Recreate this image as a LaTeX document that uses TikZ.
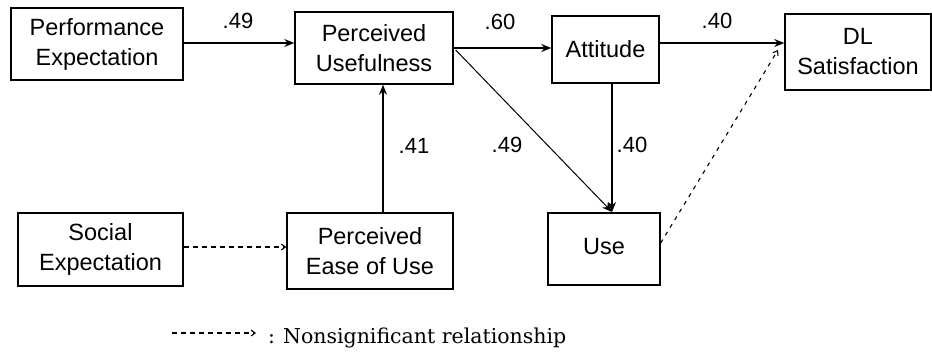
\documentclass[tikz,border=0pt]{standalone}
\usepackage{fontspec}
\setmainfont{Liberation Sans}
\newfontfamily\legfont{DejaVu Serif}
\usetikzlibrary{arrows.meta}
\begin{document}
\begin{tikzpicture}[x=1pt,y=-1pt,
  box/.style={draw, line width=1.4pt, inner sep=0pt, align=center,
    font=\fontsize{23.5}{30}\selectfont},
  lbl/.style={font=\fontsize{22}{26}\selectfont, inner sep=0pt},
  sarrow/.style={line width=1.3pt, -{Stealth[length=10pt,width=8pt]}},
  thinarrow/.style={line width=1pt, -{Stealth[length=10pt,width=8pt]}},
  nsarrow/.style={line width=1.1pt, dash pattern=on 5pt off 4pt, -{Straight Barb[length=4pt,width=6pt]}},
  dotarrow/.style={line width=1.1pt, dash pattern=on 4pt off 5pt, -{Straight Barb[length=4pt,width=6pt]}}]
\useasboundingbox (0,0) rectangle (932,353);

\node[box, minimum width=172, minimum height=72] (PE) at (97,44) {Performance\\Expectation};
\node[box, minimum width=158, minimum height=72] (PU) at (374,48) {Perceived\\Usefulness};
\node[box, minimum width=107, minimum height=67] (AT) at (605.5,49.5) {Attitude};
\node[box, minimum width=146, minimum height=76] (DL) at (858,52) {DL\\Satisfaction};
\node[box, minimum width=165, minimum height=73] (SE) at (100.5,249.5) {Social\\Expectation};
\node[box, minimum width=166, minimum height=76] (EU) at (370,251) {Perceived\\Ease of Use};
\node[box, minimum width=112, minimum height=72] (US) at (604,249) {\raisebox{5pt}{Use}};

\coordinate (useIn) at (612,212);
\coordinate (dlIn) at (778,50);

% solid paths
\draw[sarrow] (PE.east |- 0,43) -- (PU.west |- 0,43);
\draw[sarrow] (PU.east) -- (PU.east -| AT.west);
\draw[sarrow] (AT.east |- 0,43) -- (DL.west |- 0,43);
\draw[sarrow] (AT.south -| useIn) -- (useIn);
\draw[thinarrow] (PU.east) ++(2,2) -- (useIn);
\draw[sarrow] (EU.north -| 383,0) -- (PU.south -| 383,0);

% nonsignificant paths
\draw[nsarrow] (SE.east |- 0,247) -- (EU.west |- 0,247);
\draw[dotarrow] (US.east |- 0,243) -- (dlIn);

% labels
\node[lbl] (l1) at (238,21) {.49};
\node[lbl] (l2) at (500,22) {.60};
\node[lbl] (l3) at (717,21) {.40};
\node[lbl] (l4) at (507,145) {.49};
\node[lbl] (l5) at (632,145) {.40};
\node[lbl] (l6) at (414,146) {.41};

% legend
\coordinate (lgA) at (172,333);
\coordinate (lgB) at (256,333);
\draw[nsarrow] (lgA) -- (lgB);
\node[anchor=base west, inner sep=0pt, font=\legfont\fontsize{20.5}{24}\selectfont] (leg) at (268,343) {:\hspace{8pt}Nonsignificant relationship};
\end{tikzpicture}
\end{document}
